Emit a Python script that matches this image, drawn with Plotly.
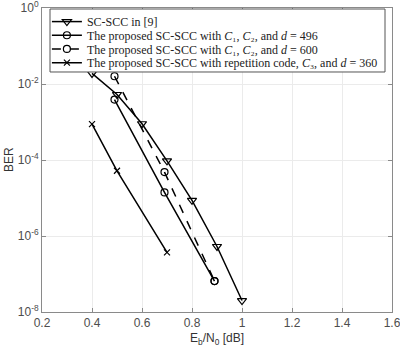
import plotly.graph_objects as go

# Data
x_ref9 = [0.4, 0.5, 0.6, 0.7, 0.8, 0.9, 1.0]
ber_ref9 = [1.9e-2, 5.3e-3, 9.0e-4, 9.5e-5, 8.7e-6, 5.3e-7, 2.0e-8]

x_496 = [0.49, 0.69, 0.89]
ber_496 = [3.9e-3, 1.4e-5, 6.5e-8]

x_600 = [0.49, 0.69, 0.89]
ber_600 = [1.6e-2, 4.8e-5, 6.5e-8]

x_rep = [0.4, 0.5, 0.7]
ber_rep = [8.8e-4, 5.2e-5, 3.7e-7]

names = [
    "SC-SCC in [9]",
    "The proposed SC-SCC with <i>C</i>₁, <i>C</i>₂, and <i>d</i> = 496",
    "The proposed SC-SCC with <i>C</i>₁, <i>C</i>₂, and <i>d</i> = 600",
    "The proposed SC-SCC with repetition code, <i>C</i>₃, and <i>d</i> = 360",
]

x_ticks = [0.2, 0.4, 0.6, 0.8, 1.0, 1.2, 1.4, 1.6]
x_ticktext = ["0.2", "0.4", "0.6", "0.8", "1", "1.2", "1.4", "1.6"]
y_ticks = [1e-8, 1e-6, 1e-4, 1e-2, 1]
y_ticktext = ["10<sup>-8</sup>", "10<sup>-6</sup>", "10<sup>-4</sup>", "10<sup>-2</sup>", "10<sup>0</sup>"]

fig = go.Figure()
fig.add_trace(go.Scatter(x=x_ref9, y=ber_ref9, name=names[0], mode="lines+markers", legend="legend",
                         line=dict(color="black", width=1.5),
                         marker=dict(symbol="triangle-down-open", size=8, color="black", line=dict(width=1.2))))
fig.add_trace(go.Scatter(x=x_496, y=ber_496, name=names[1], mode="lines+markers", legend="legend2",
                         line=dict(color="black", width=1.5),
                         marker=dict(symbol="circle-open", size=7, color="black", line=dict(width=1.2))))
fig.add_trace(go.Scatter(x=x_600, y=ber_600, name=names[2], mode="lines+markers", legend="legend3",
                         line=dict(color="black", width=1.5, dash="dash"),
                         marker=dict(symbol="circle-open", size=7, color="black", line=dict(width=1.2))))
fig.add_trace(go.Scatter(x=x_rep, y=ber_rep, name=names[3], mode="lines+markers", legend="legend4",
                         line=dict(color="black", width=1.5),
                         marker=dict(symbol="x-thin-open", size=6, color="black", line=dict(width=1.2))))

axis_common = dict(
    showline=True, linecolor="#8a8a8a", linewidth=1, mirror="ticks",
    ticks="inside", ticklen=4, tickcolor="#8a8a8a",
    showgrid=True, gridcolor="#ebebeb", gridwidth=1, zeroline=False,
    ticklabeloverflow="allow",
    tickfont=dict(family="Liberation Sans, Arial, sans-serif", size=12, color="#4d4d4d"),
)
title_font = dict(family="Liberation Sans, Arial, sans-serif", size=12, color="#333333")

fig.update_xaxes(range=[0.2, 1.6], tickvals=x_ticks, ticktext=x_ticktext,
                 title=dict(text="E<sub>b</sub>/N<sub>0</sub> [dB]", standoff=4, font=title_font),
                 **axis_common)
fig.update_yaxes(type="log", range=[-8, 0], tickvals=y_ticks, ticktext=y_ticktext,
                 **axis_common)

legend_font = dict(family="Liberation Serif, Times New Roman, serif", size=12, color="#222222")
legend_style = dict(xref="paper", yref="paper", x=0.014, xanchor="left", yanchor="top",
                    bgcolor="rgba(0,0,0,0)", borderwidth=0, font=legend_font, itemwidth=30)
row_tops = [1.003, 0.958, 0.913, 0.868]

fig.update_layout(
    width=400, height=352,
    margin=dict(l=42, r=8, t=8, b=40, autoexpand=False),
    plot_bgcolor="white", paper_bgcolor="white",
    legend=dict(y=row_tops[0], **legend_style),
    legend2=dict(y=row_tops[1], **legend_style),
    legend3=dict(y=row_tops[2], **legend_style),
    legend4=dict(y=row_tops[3], **legend_style),
    showlegend=True,
    shapes=[dict(type="rect", xref="paper", yref="paper", x0=0.0229, x1=0.98, y0=0.7895, y1=0.9967,
                 fillcolor="white", line=dict(color="#555555", width=1), layer="above")],
    annotations=[dict(text="BER", xref="paper", yref="paper", x=-0.094, y=0.5,
                      xanchor="center", yanchor="middle", textangle=-90, showarrow=False,
                      font=title_font)],
)

fig.write_html("out.html")
